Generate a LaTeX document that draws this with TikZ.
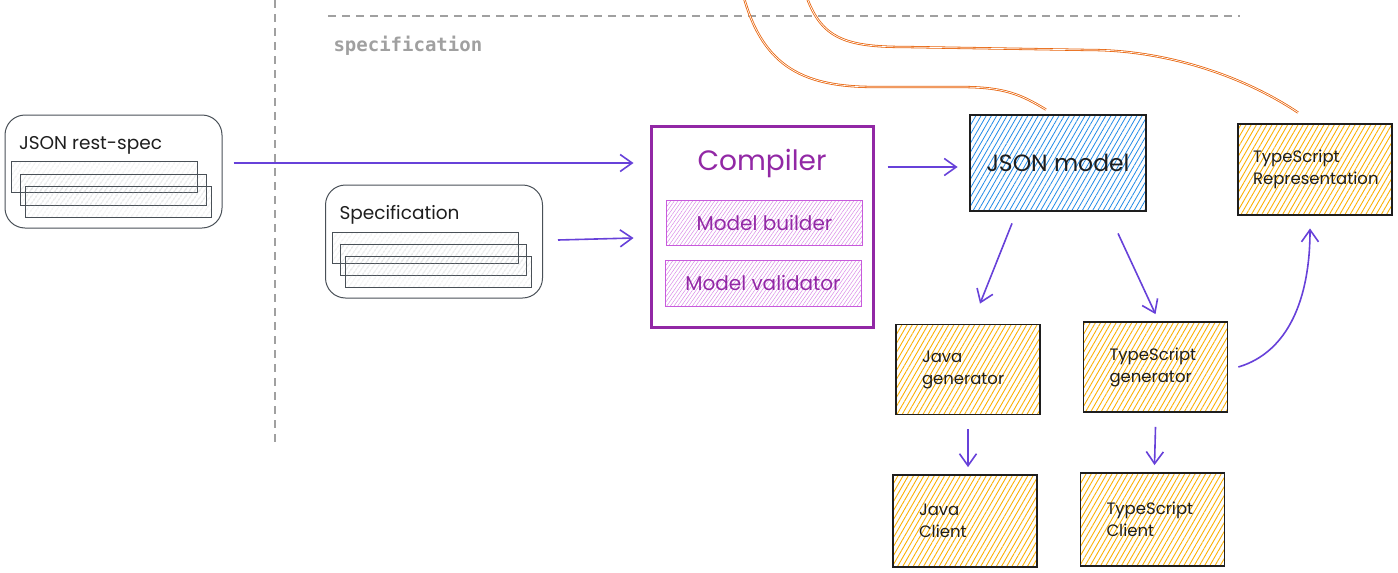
\documentclass[tikz,border=0pt]{standalone}
\usepackage{fontspec}
\setmainfont{Poppins}
\setmonofont{DejaVu Sans Mono}
\usepackage{xcolor}
\usepackage{tikz}
\usetikzlibrary{arrows.meta, patterns.meta, positioning, calc}
\definecolor{cInk}{RGB}{30,30,30}
\definecolor{cGrey}{RGB}{73,80,87}
\definecolor{cDash}{RGB}{160,160,160}
\definecolor{cFlow}{RGB}{103,65,217}
\definecolor{cGrape}{RGB}{146,40,165}
\definecolor{cGrapeLight}{RGB}{200,90,220}
\definecolor{cBlue}{RGB}{34,139,230}
\definecolor{cYellow}{RGB}{250,176,5}
\definecolor{cOrange}{RGB}{232,100,12}

\begin{document}
\begin{tikzpicture}[x=1pt, y=-1pt,
	divider/.style={cDash, line width=1.5pt, dash pattern=on 8pt off 6pt},
	flow/.style={cFlow, line width=1.6pt, -{Straight Barb[length=12pt, width=17pt, line width=1.6pt]}},
	feed/.style={cOrange, line width=0.8pt, double=white, double distance=0.7pt},
	srcbox/.style={draw=cGrey, line width=1pt, rounded corners=20pt, minimum width=217pt, minimum height=113pt},
	srclabel/.style={anchor=west, text=cInk, font={\fontsize{18.5}{20}\selectfont}},
	sheet/.style={draw=cGrey, line width=1.2pt, pattern={Lines[angle=55,distance=4pt,line width=0.4pt]}, pattern color=cGrey!50, minimum width=186pt, minimum height=31pt, anchor=north west, inner sep=0pt},
	compbox/.style={draw=cGrape, line width=3pt, minimum width=222pt, minimum height=201pt},
	partbox/.style={draw=cGrapeLight, line width=0.8pt, pattern={Lines[angle=55,distance=3pt,line width=0.5pt]}, pattern color=cGrapeLight!70, text=cGrape, font={\fontsize{20}{22}\selectfont}, minimum width=196pt, minimum height=45pt},
	modelbox/.style={draw=cInk, line width=1.8pt, pattern={Lines[angle=60,distance=4.5pt,line width=0.8pt]}, pattern color=cBlue, text=cInk, font={\fontsize{23.5}{26}\selectfont}, minimum width=176pt, minimum height=96pt},
	genbox/.style={draw=cInk, line width=1.8pt, pattern={Lines[angle=60,distance=4.5pt,line width=0.9pt]}, pattern color=cYellow, text=cInk, font={\fontsize{16.5}{22}\selectfont}, align=left, text width=92pt, inner xsep=26pt, minimum height=90pt}]
	\useasboundingbox (0,0) rectangle (1398,573);

	% dividers
	\draw[divider] (275,0) -- (275,443);
	\draw[divider] (328,16) -- (1240,16);
	\node[anchor=west, text=cDash, font={\ttfamily\bfseries\fontsize{19}{20}\selectfont}] (speclabel) at (330,46) {specification};

	% sources
	\node[srcbox] (restspec) at (113.5,171.5) {};
	\node[srcbox] (spec) at (434,241.5) {};
	\node[srclabel] (restspec-label) at ([shift={(11,31)}]restspec.north west) {JSON rest-spec};
	\node[srclabel] (spec-label) at ([shift={(11,30)}]spec.north west) {Specification};
	\foreach \src in {restspec, spec}
		\foreach \i/\dx/\dy in {1/7/47, 2/15/59, 3/20/71}
			\node[sheet] (\src-sheet\i) at ([shift={(\dx,\dy)}]\src.north west) {};

	% compiler
	\node[compbox] (compiler) at (762,226.5) {};
	\node[text=cGrape, font={\fontsize{28}{30}\selectfont}] (compiler-label) at ([shift={(0,39)}]compiler.north) {Compiler};
	\node[partbox] (builder) at (764.5,222.5) {Model builder};
	\node[partbox, minimum height=46pt] (validator) at (763,283) {Model validator};

	% model and generators
	\node[modelbox] (json) at (1058,163) {JSON model};
	\node[genbox, text width=124pt, inner xsep=15pt, minimum height=91pt] (tsrep) at (1315,169.5) {TypeScript\\Representation};
	\node[genbox] (javagen) at (968,369.5) {Java\\generator};
	\node[genbox] (tsgen) at (1155.5,367) {TypeScript\\generator};
	\node[genbox, minimum height=92pt] (javaclient) at (965,521) {Java\\Client};
	\node[genbox, minimum height=93pt] (tsclient) at (1152.5,519.5) {TypeScript\\Client};

	% connectors
	\draw[flow] ([shift={(11,-8.5)}]restspec.east) -- ([shift={(-16,-63.5)}]compiler.west);
	\draw[flow] ([shift={(15,-1.5)}]spec.east) -- ([shift={(-16,11.5)}]compiler.west);
	\draw[flow] ([shift={(13,-59.5)}]compiler.east) -- ([shift={(-12,4)}]json.west);
	\draw[flow] ([shift={(-46,12)}]json.south) -- ([shift={(12,-20)}]javagen.north);
	\draw[flow] ([shift={(60,22)}]json.south) -- ([shift={(0,-7)}]tsgen.north);
	\draw[flow] ([shift={(0,14)}]javagen.south) -- ([shift={(3,-7)}]javaclient.north);
	\draw[flow] ([shift={(0,14)}]tsgen.south) -- ([shift={(2,-7)}]tsclient.north);
	\draw[flow] ([shift={(10,0)}]tsgen.east) .. controls +(50,-15) and +(0,70) .. ([shift={(-5,13)}]tsrep.south);

	% feeds from above
	\coordinate (feedjson) at (744,-2);
	\coordinate (feedts) at (807,-2);
	\draw[feed] (feedjson) .. controls +(20,70) and +(-70,0) .. (875,87) -- (960,87) .. controls +(45,0) and +(-25,-15) .. ([shift={(-12,-5)}]json.north);
	\draw[feed] (feedts) .. controls +(15,40) and +(-60,0) .. (905,47) -- (1090,50) .. controls +(70,0) and +(-60,-40) .. ([shift={(-17,-11)}]tsrep.north);
\end{tikzpicture}
\end{document}
